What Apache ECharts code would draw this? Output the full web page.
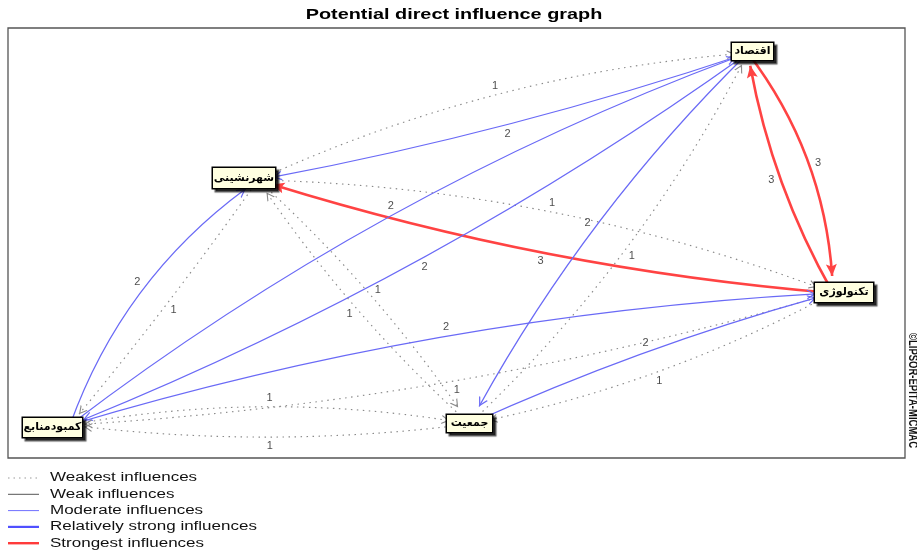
<!DOCTYPE html>
<html>
<head>
<meta charset="utf-8">
<script src="https://cdn.jsdelivr.net/npm/echarts@6/dist/echarts.min.js"></script>
<style>html,body{margin:0;padding:0;background:#fff}#c{width:917px;height:552px}</style>
</head>
<body>
<div id="c"></div>
<script>
// ---------------- data ----------------
const nodeNames = ['اقتصاد', 'شهرنشینی', 'تکنولوژی', 'کمبودمنابع', 'جمعیت'];
// node anchor positions on the (hidden) x / y axes
const nodeX = [748, 258, 833, 70, 469.5];
const nodeY = [53, 180, 293, 425, 424];

const linkSource = ['شهرنشینی','اقتصاد','اقتصاد','تکنولوژی','تکنولوژی','شهرنشینی','جمعیت','اقتصاد','کمبودمنابع','اقتصاد',
                    'کمبودمنابع','شهرنشینی','شهرنشینی','جمعیت','تکنولوژی','کمبودمنابع','جمعیت','تکنولوژی','کمبودمنابع','جمعیت'];
const linkTarget = ['اقتصاد','شهرنشینی','تکنولوژی','اقتصاد','شهرنشینی','تکنولوژی','اقتصاد','جمعیت','اقتصاد','کمبودمنابع',
                    'شهرنشینی','کمبودمنابع','جمعیت','شهرنشینی','کمبودمنابع','تکنولوژی','تکنولوژی','جمعیت','جمعیت','کمبودمنابع'];
const linkValue  = [1,2,3,3,3,1,1,2,2,2, 2,1,1,1,1,2,2,1,1,1];

const legendLabels = ['Weakest influences','Weak influences','Moderate influences','Relatively strong influences','Strongest influences'];
const titleText = 'Potential direct influence graph';
const copyrightText = '©LIPSOR-EPITA-MICMAC';

// ---------------- styling / layout ----------------
const linkCurve = [0.09,0.035,0.16,0.09,0.056,0.086,-0.086,-0.076,0.075,0.06,
                   0.16,0.02,0.06,0.06,0.057,0.06,0.04,0.076,0.089,0.063];
const nodeClip = [26, 30, 34, 28, 40];
const nodeBox = [[41,17],[62,20],[58,19],[59,19],[45,17]];
const nodeLabelOffset = [[4.5,-1.5],[-14,-2],[11,-0.5],[-17.5,2.5],[0,-0.5]];

const chev = 'path://M0,0M20,20M10,10L15,19L13.6,19L10,12.6L6.4,19L5,19Z';
const redArrow = 'path://M0,0M24,24M12,12L17.5,24L12,21.5L6.5,24Z';
const levelStyle = {
  1: {color:'#8a8a8a', width:1.15, type:[1.5,4.5], symbol:chev, size:18},
  2: {color:'#6a6af6', width:1.25, type:'solid', symbol:chev, size:20},
  3: {color:'#ff4343', width:2.6, type:'solid', symbol:redArrow, size:24}
};

const nodes = nodeNames.map((n, i) => ({
  name: n,
  value: [nodeX[i], nodeY[i]],
  symbolSize: nodeClip[i],
  label: {
    offset: nodeLabelOffset[i],
    width: nodeBox[i][0],
    height: nodeBox[i][1],
    lineHeight: nodeBox[i][1]
  }
}));

const links = linkSource.map((s, i) => {
  const st = levelStyle[linkValue[i]];
  return {
    source: s, target: linkTarget[i], value: linkValue[i],
    symbol: ['none', st.symbol], symbolSize: st.size,
    lineStyle: {color: st.color, width: st.width, type: st.type, curveness: linkCurve[i], opacity: 1}
  };
});

// edge value labels placed at the middle of each curved edge (derived from node positions)
const labelPts = linkSource.map((s, i) => {
  const a = nodeNames.indexOf(s), b = nodeNames.indexOf(linkTarget[i]);
  const x1 = nodeX[a], y1 = nodeY[a], x2 = nodeX[b], y2 = nodeY[b];
  const L = Math.hypot(x2 - x1, y2 - y1);
  const c = linkCurve[i];
  const sg = c >= 0 ? 1 : -1;
  const nx = (y2 - y1) / L * sg, ny = (x1 - x2) / L * sg;
  const off = 0.5 * Math.abs(c) * L + 9;
  return [(x1 + x2) / 2 + nx * off, (y1 + y2) / 2 + ny * off, linkValue[i]];
});

const chart = echarts.init(document.getElementById('c'), null, {renderer: 'canvas'});

const legendGraphics = [];
const legendLineStyles = [
  {stroke:'#999', lineWidth:1.2, lineDash:[1.5,4]},
  {stroke:'#555', lineWidth:1},
  {stroke:'#7070ff', lineWidth:1},
  {stroke:'#5050ff', lineWidth:2.2},
  {stroke:'#ff3b3b', lineWidth:2.4}
];
legendLabels.forEach((t, i) => {
  const y = 478 + i * 16.3;
  legendGraphics.push({type:'line', shape:{x1:8, y1:y, x2:39, y2:y}, style:legendLineStyles[i], silent:true});
  legendGraphics.push({type:'text', x:50, y:y, scaleX:1.36,
    style:{text:t, font:'12.5px "Liberation Sans", Arial, sans-serif', fill:'#111',
      textAlign:'left', align:'left', textVerticalAlign:'middle', verticalAlign:'middle'}, silent:true});
});

chart.setOption({
  animation: false,
  backgroundColor: '#fff',
  grid: {left: 8, top: 28, width: 897, height: 430, show: true, borderColor: '#555', borderWidth: 1.3, backgroundColor: 'transparent'},
  xAxis: {type: 'value', min: 8, max: 905, show: false},
  yAxis: {type: 'value', min: 28, max: 458, inverse: true, show: false},
  graphic: [
    {type:'text', x:454, y:15, scaleX:1.28,
     style:{text:titleText, font:'bold 15.5px "Liberation Sans", Arial, sans-serif', fill:'#000',
       textAlign:'center', align:'center', textVerticalAlign:'middle', verticalAlign:'middle'}, silent:true},
    {type:'text', x:912, y:333, rotation:-Math.PI/2, scaleY:1.3,
     style:{text:copyrightText, font:'bold 9.5px "Liberation Sans", Arial, sans-serif', fill:'#111',
       textAlign:'left', align:'left', textVerticalAlign:'middle', verticalAlign:'middle'}, silent:true}
  ].concat(legendGraphics),
  series: [
    {
      type: 'graph',
      coordinateSystem: 'cartesian2d',
      xAxisIndex: 0, yAxisIndex: 0,
      layout: 'none',
      roam: false,
      silent: true,
      symbol: 'rect',
      itemStyle: {color: 'rgba(0,0,0,0)', borderWidth: 0},
      label: {
        show: true, position: 'inside', color: '#000', fontSize: 11, fontWeight: 'bold',
        fontFamily: '"DejaVu Sans", "Noto Sans", sans-serif',
        align: 'center', verticalAlign: 'middle',
        backgroundColor: '#ffffe1', borderColor: '#000', borderWidth: 1.5, padding: 0,
        shadowColor: 'rgba(0,0,0,0.65)', shadowOffsetX: 3, shadowOffsetY: 3, shadowBlur: 1
      },
      data: nodes,
      links: links,
      lineStyle: {opacity: 1}
    },
    {
      type: 'scatter',
      silent: true,
      symbol: 'circle', symbolSize: 1,
      itemStyle: {color: 'rgba(0,0,0,0)'},
      label: {show: true, position: 'inside', formatter: p => String(p.value[2]),
        fontSize: 11, color: '#1a1a1a', fontFamily: '"Liberation Sans", Arial, sans-serif'},
      data: labelPts
    }
  ]
});
</script>
</body>
</html>
